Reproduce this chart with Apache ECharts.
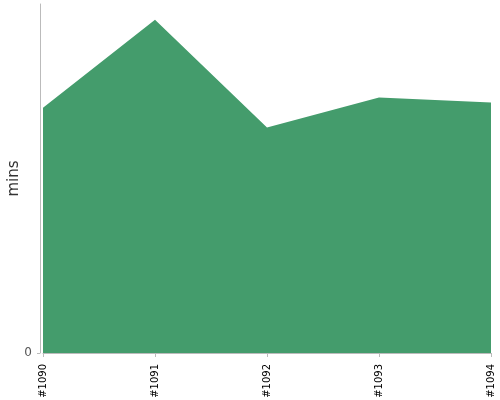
<!DOCTYPE html>
<html><head><meta charset="utf-8">
<script src="https://cdn.jsdelivr.net/npm/echarts@6/dist/echarts.min.js"></script>
<style>html,body{margin:0;padding:0;background:#fff}#c{width:500px;height:400px}</style>
</head><body><div id="c"></div>
<script>
const categories = ['#1090', '#1091', '#1092', '#1093', '#1094'];
const minsValues = [70.3, 95.5, 64.6, 73.2, 71.8];
const yMin = 0;
const yMax = 100;

const chart = echarts.init(document.getElementById('c'), null, {renderer: 'canvas'});
chart.setOption({
  animation: false,
  grid: {left: 43, right: 9, top: 4, bottom: 47, containLabel: false, outerBoundsMode: 'none'},
  xAxis: {
    type: 'category',
    data: categories,
    boundaryGap: false,
    offset: 3,
    axisLine: {lineStyle: {color: '#bbb', width: 1}},
    axisTick: {length: 4, lineStyle: {color: '#bbb'}},
    axisLabel: {rotate: 90, color: '#000', fontSize: 10, margin: 8, fontFamily: 'DejaVu Sans'}
  },
  yAxis: {
    type: 'value',
    min: yMin, max: yMax, interval: 100,
    offset: 3,
    name: 'mins',
    nameLocation: 'middle',
    nameGap: 18,
    nameMoveOverlap: false,
    nameTextStyle: {fontSize: 15, color: '#333', fontFamily: 'DejaVu Sans'},
    splitLine: {show: false},
    axisLine: {show: true, lineStyle: {color: '#bbb', width: 1}},
    axisTick: {show: true, length: 3, lineStyle: {color: '#bbb'}},
    axisLabel: {showMaxLabel: false, color: '#555', fontSize: 12, margin: 8, fontFamily: 'DejaVu Sans'}
  },
  series: [{
    type: 'line',
    data: minsValues,
    symbol: 'none',
    lineStyle: {width: 0},
    areaStyle: {color: '#449c6c', opacity: 1}
  }]
});
</script></body></html>
